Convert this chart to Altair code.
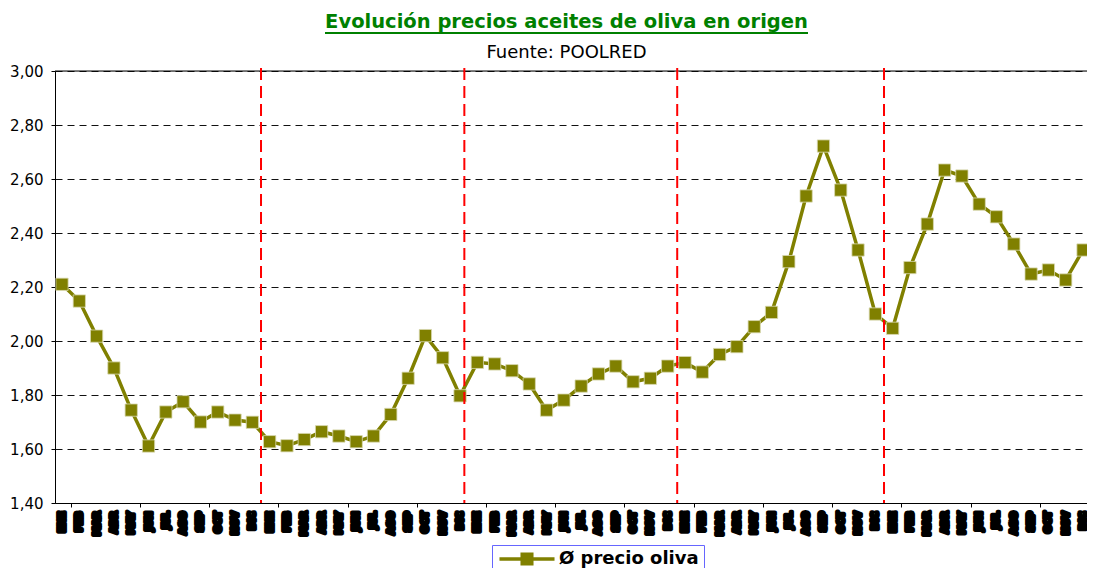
import altair as alt
import pandas as pd

# ---- data ----
meses = ["ENE", "FEB", "MAR", "ABR", "MAY", "JUN", "JUL", "AGO", "SEP", "OCT", "NOV", "DIC"]
anios = [2000, 2001, 2002, 2003, 2004]
precio = [2.21, 2.148, 2.018, 1.90, 1.744, 1.611, 1.737, 1.775, 1.70, 1.737, 1.707, 1.699,
          1.627, 1.612, 1.635, 1.664, 1.648, 1.627, 1.648, 1.728, 1.862, 2.02, 1.938, 1.797,
          1.921, 1.915, 1.89, 1.841, 1.744, 1.781, 1.833, 1.878, 1.907, 1.849, 1.862, 1.907,
          1.92, 1.885, 1.95, 1.979, 2.053, 2.106, 2.294, 2.537, 2.722, 2.559, 2.337, 2.10,
          2.047, 2.272, 2.433, 2.633, 2.611, 2.507, 2.46, 2.359, 2.248, 2.263, 2.226, 2.337]
separadores = [11.5, 23.25, 35.55, 47.5]
y_ticks = [1.4, 1.6, 1.8, 2.0, 2.2, 2.4, 2.6, 2.8, 3.0]
serie = "Ø precio oliva"
titulo = "Evolución precios aceites de oliva en origen"
subtitulo = "Fuente: POOLRED"

etiquetas = [m for a in anios for m in meses]
df = pd.DataFrame({"i": list(range(len(precio))), "precio": precio,
                   "mes": etiquetas, "serie": [serie] * len(precio)})
df_sep = pd.DataFrame({"pos": separadores})
df_top = pd.DataFrame({"v": [y_ticks[-1]]})

W, H = 1032, 432
OLIVE = "#808000"
x_dom = [-0.4045, 59.23]
x_scale = alt.Scale(domain=x_dom, nice=False, zero=False)
y_scale = alt.Scale(domain=[1.4, 3.0], nice=False, zero=False)

base = alt.Chart(df)

line = base.mark_line(color=OLIVE, strokeWidth=3.5).encode(
    x=alt.X("i:Q", scale=x_scale,
            axis=alt.Axis(values=[k + 0.5 for k in range(59)], labels=False, tickSize=4,
                          tickColor="black", domainColor="black", grid=False, title=None)),
    y=alt.Y("precio:Q", scale=y_scale,
            axis=alt.Axis(values=y_ticks, labelExpr="replace(format(datum.value, '.2f'), '.', ',')",
                          grid=True, gridDash=[7, 5], gridColor="#111", gridWidth=1,
                          labelFont="DejaVu Sans", labelFontSize=15, labelColor="black",
                          tickSize=4, tickColor="black", domainColor="black",
                          labelPadding=8, title=None)),
)

legend_path = "M-3.67,-0.23H3.67V0.23H-3.67Z M-0.87,-0.87H0.87V0.87H-0.87Z"
points = base.mark_point(shape="square", filled=True, size=150, opacity=1,
                         stroke="#d8d8b0", strokeWidth=0.8).encode(
    x=alt.X("i:Q", scale=x_scale),
    y=alt.Y("precio:Q", scale=y_scale),
    color=alt.Color("serie:N", scale=alt.Scale(range=[OLIVE]),
                    legend=alt.Legend(orient="none", legendX=437, legendY=474, title=None,
                                      symbolType=legend_path, symbolSize=225,
                                      symbolStrokeWidth=0, symbolFillColor=OLIVE,
                                      symbolOffset=21, labelOffset=23,
                                      labelFont="DejaVu Sans", labelFontWeight="bold",
                                      labelFontSize=18, labelColor="black",
                                      strokeColor="#6666ff", padding=5, fillColor="white")),
)

labels = base.mark_text(angle=270, align="right", baseline="middle", font="DejaVu Sans",
                        fontWeight="bold", fontSize=9.5, fill="black", stroke="black",
                        strokeWidth=4, strokeJoin="round", dx=-1.5).encode(
    x=alt.X("i:Q", scale=x_scale),
    y=alt.value(H + 7),
    text="mes:N",
)

top_rule = alt.Chart(df_top).mark_rule(color="black", strokeWidth=1).encode(
    y=alt.Y("v:Q", scale=y_scale))

seps = alt.Chart(df_sep).mark_rule(color="#ff0000", strokeWidth=2, strokeDash=[12, 6]).encode(
    x=alt.X("pos:Q", scale=x_scale), y=alt.value(-3), y2=alt.value(H))

t_df = pd.DataFrame({"t": [titulo]})
s_df = pd.DataFrame({"t": [subtitulo]})
title_txt = alt.Chart(t_df).mark_text(font="DejaVu Sans", fontWeight="bold", fontSize=19.5,
                                      color="#008000", align="center", baseline="alphabetic").encode(
    text="t:N", x=alt.value(511.5), y=alt.value(-43))
underline = alt.Chart(t_df).mark_rule(color="#008000", strokeWidth=2).encode(
    x=alt.value(270), x2=alt.value(753), y=alt.value(-38))
sub_txt = alt.Chart(s_df).mark_text(font="DejaVu Sans", fontSize=18, color="black",
                                    align="center", baseline="alphabetic").encode(
    text="t:N", x=alt.value(511.5), y=alt.value(-13))

chart = alt.layer(top_rule, line, points, seps, labels, title_txt, underline, sub_txt).properties(
    width=W, height=H,
    autosize=alt.AutoSizeParams(type="none"),
    padding={"left": 47, "top": 63, "right": 0, "bottom": 65},
).configure_view(stroke=None).configure(background="white")

chart.save("out.html", embed_options={"renderer": "svg", "actions": False})
